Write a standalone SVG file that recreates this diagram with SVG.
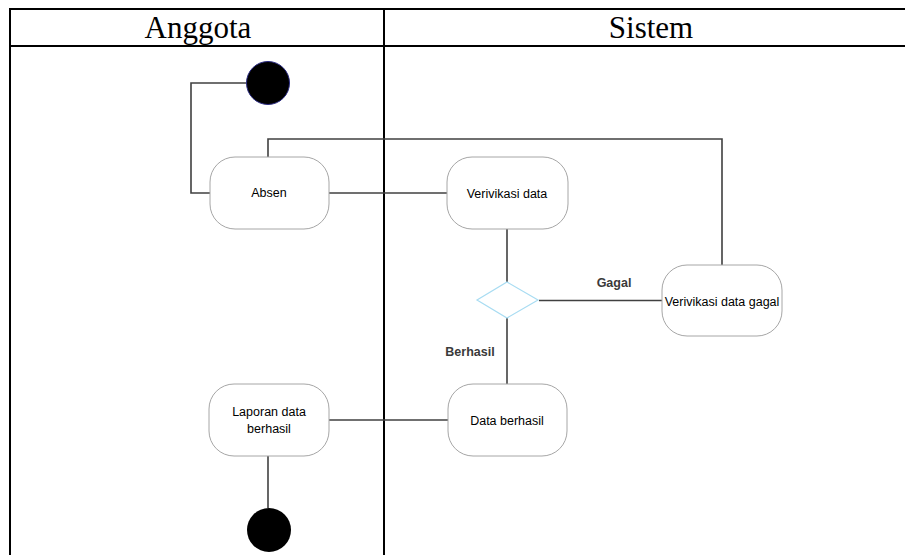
<svg xmlns="http://www.w3.org/2000/svg" width="905" height="555" viewBox="0 0 905 555">
<style>
.frame{stroke:#000;stroke-width:2;fill:none}
.hdr{font-family:"Liberation Serif","Times New Roman",serif;font-size:31px;fill:#000;text-anchor:middle}
.node{fill:#fff;stroke:#a6a6a6;stroke-width:1}
.lbl{font-family:"Liberation Sans",Arial,sans-serif;font-size:12.5px;fill:#000;text-anchor:middle}
.guard{font-family:"Liberation Sans",Arial,sans-serif;font-size:12.5px;font-weight:bold;fill:#3a3a3a;text-anchor:middle}
.conn{stroke:#404040;stroke-width:1.6;fill:none}
</style>
<rect width="905" height="555" fill="#fff"/>
<g id="swimlanes">
<path class="frame" d="M10 9H905M10 46H905M10 8V555M384 8V555"/>
<text class="hdr" x="198" y="38">Anggota</text>
<text class="hdr" x="651" y="38">Sistem</text>
</g>
<g id="connectors">
<path class="conn" d="M246 83H191V193H210"/>
<path class="conn" d="M268 157V139H722V265"/>
<path class="conn" d="M329 193H447"/>
<path class="conn" d="M507 229V282"/>
<path class="conn" d="M539 300.5H662"/>
<path class="conn" d="M507 318V384"/>
<path class="conn" d="M448 420H329"/>
<path class="conn" d="M268 456V508"/>
<text class="guard" x="614" y="287">Gagal</text>
<text class="guard" x="470" y="356">Berhasil</text>
</g>
<g id="start">
<circle cx="268" cy="83" r="21.5" fill="#000" stroke="#2a2a80" stroke-width="1"/>
</g>
<g id="absen">
<rect class="node" x="210" y="157" width="119" height="72" rx="25"/>
<text class="lbl" x="269" y="197">Absen</text>
</g>
<g id="verifikasi">
<rect class="node" x="447" y="157" width="121" height="72" rx="25"/>
<text class="lbl" x="507" y="198">Verivikasi data</text>
</g>
<g id="decision">
<polygon points="507,282 538,300 507,318 477,300" fill="#fff" stroke="#a8dcf2" stroke-width="1.2"/>
</g>
<g id="gagal">
<rect class="node" x="662" y="265" width="120" height="71" rx="25"/>
<text class="lbl" x="722" y="306">Verivikasi data gagal</text>
</g>
<g id="berhasil">
<rect class="node" x="448" y="384" width="119" height="72" rx="25"/>
<text class="lbl" x="507" y="425">Data berhasil</text>
</g>
<g id="laporan">
<rect class="node" x="209" y="384" width="120" height="72" rx="25"/>
<text class="lbl" x="269" y="416">Laporan data</text>
<text class="lbl" x="269" y="433">berhasil</text>
</g>
<g id="end">
<circle cx="269" cy="530" r="22" fill="#000"/>
</g>
</svg>
